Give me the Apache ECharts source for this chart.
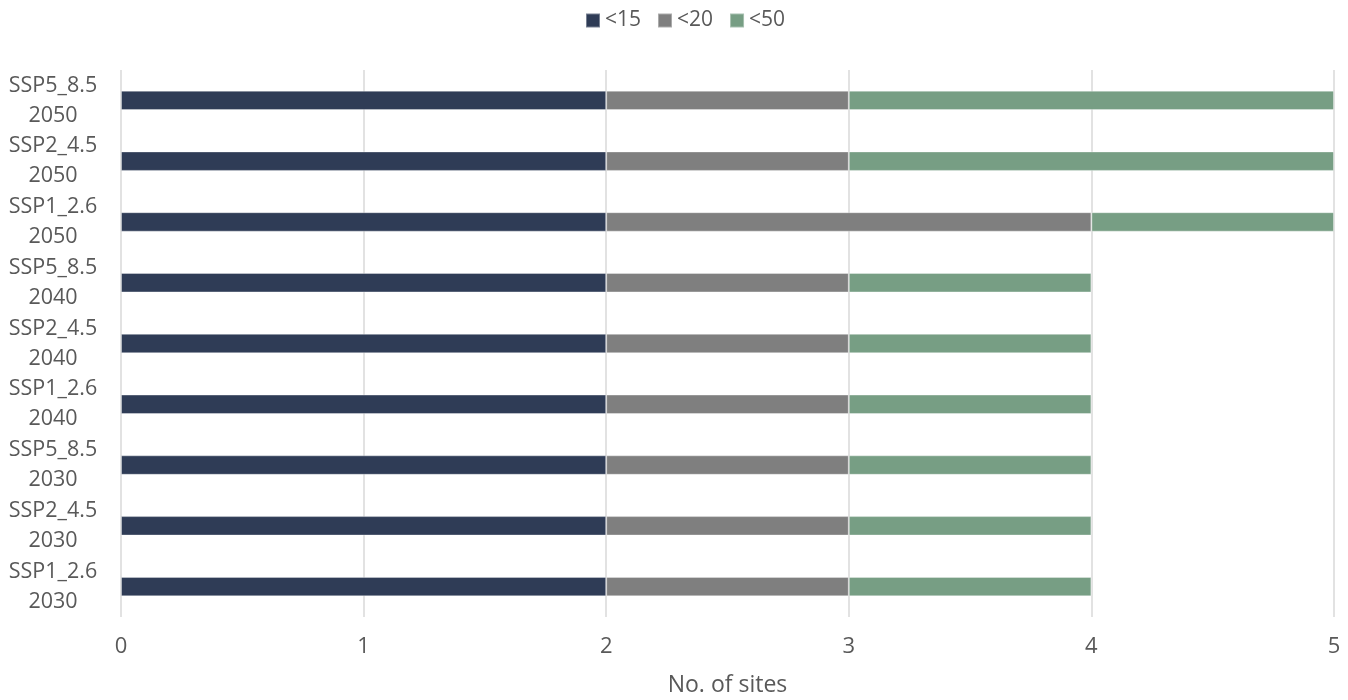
<!DOCTYPE html>
<html>
<head>
<meta charset="utf-8">
<script src="https://cdn.jsdelivr.net/npm/echarts@6/dist/echarts.min.js"></script>
<style>html,body{margin:0;padding:0;background:#fff}#c{width:1348px;height:700px}</style>
</head>
<body>
<div id="c"></div>
<script>
const categories = ['SSP1_2.6\n2030','SSP2_4.5\n2030','SSP5_8.5\n2030','SSP1_2.6\n2040','SSP2_4.5\n2040','SSP5_8.5\n2040','SSP1_2.6\n2050','SSP2_4.5\n2050','SSP5_8.5\n2050'];
const lt15 = [2,2,2,2,2,2,2,2,2];
const lt20 = [1,1,1,1,1,1,2,1,1];
const lt50 = [1,1,1,1,1,1,1,2,2];
const xTicks = [0,1,2,3,4,5];

const font = '"Open Sans", "Noto Sans", sans-serif';
const txt = '#595959';
const chart = echarts.init(document.getElementById('c'));
function s(name, data, color){
  return {name, type:'bar', stack:'a', data, barCategoryGap:'68%',
    itemStyle:{color, borderColor:'rgba(255,255,255,0.35)', borderWidth:1}};
}
chart.setOption({
  animation:false,
  textStyle:{fontFamily:font},
  legend:{top:5, left:580, icon:'rect', itemWidth:14, itemHeight:14, itemGap:16,
    textStyle:{color:txt, fontSize:21, fontFamily:font},
    data:['<15','<20','<50']},
  grid:{left:121, right:14, top:70, bottom:83, containLabel:false, outerBoundsMode:'none'},
  xAxis:{type:'value', min:0, max:5, interval:1,
    name:'No. of sites', nameLocation:'middle', nameGap:57,
    nameTextStyle:{color:txt, fontSize:23, fontFamily:font},
    axisLine:{show:false}, axisTick:{show:false},
    axisLabel:{color:txt, fontSize:22, margin:19, fontFamily:font, formatter:v=>xTicks.includes(v)?String(v):''},
    splitLine:{lineStyle:{color:'#D9D9D9', width:1.5}}},
  yAxis:{type:'category', data:categories,
    axisLine:{show:false}, axisTick:{show:false},
    axisLabel:{color:txt, fontSize:21.5, lineHeight:30, align:'center', margin:68, interval:0, hideOverlap:false, fontFamily:font}},
  series:[s('<15', lt15, '#2F3C56'), s('<20', lt20, '#7F7F7F'), s('<50', lt50, '#779E84')]
});
</script>
</body>
</html>
